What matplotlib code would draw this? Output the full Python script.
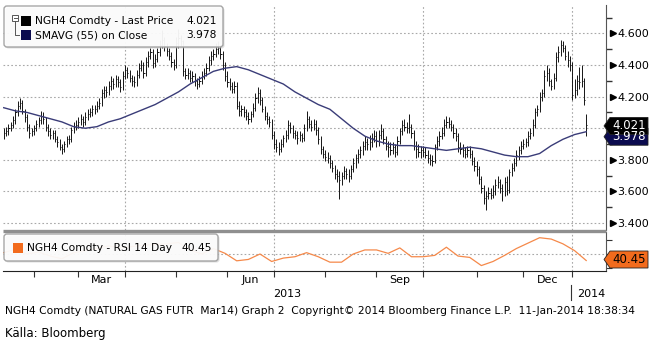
import numpy as np
import pandas as pd
import matplotlib
matplotlib.use("Agg")
import matplotlib.pyplot as plt
from matplotlib.patches import FancyBboxPatch, Rectangle, Polygon
from matplotlib.transforms import blended_transform_factory

# NYMEX trading days, Jan 14 2013 .. Jan 10 2014
holidays = ["2013-01-21", "2013-02-18", "2013-03-29", "2013-05-27", "2013-07-04",
            "2013-09-02", "2013-11-28", "2013-12-25", "2014-01-01"]
days = pd.bdate_range("2013-01-14", "2014-01-10")
days = days[~days.isin(pd.to_datetime(holidays))]

closes = [
    3.97, 3.98, 4.00, 4.02, 4.05, 4.10, 4.14, 4.16, 4.11, 4.07,
    4.01, 3.97, 3.98, 4.00, 4.03, 4.05, 4.08, 4.06, 4.01, 3.98,
    3.96, 3.97, 3.93, 3.91, 3.88, 3.87, 3.90, 3.93, 3.93, 3.99,
    4.01, 4.02, 4.04, 4.06, 4.04, 4.07, 4.09, 4.10, 4.12, 4.12,
    4.14, 4.16, 4.22, 4.24, 4.23, 4.27, 4.30, 4.28, 4.31, 4.29,
    4.26, 4.33, 4.37, 4.35, 4.32, 4.30, 4.29, 4.34, 4.38, 4.40,
    4.35, 4.42, 4.46, 4.48, 4.41, 4.44, 4.48, 4.53, 4.56, 4.52,
    4.49, 4.46, 4.42, 4.40, 4.54, 4.57, 4.55, 4.36, 4.34, 4.35,
    4.32, 4.33, 4.30, 4.28, 4.30, 4.33, 4.35, 4.38, 4.43, 4.46,
    4.47, 4.50, 4.51, 4.47, 4.40, 4.33, 4.29, 4.27, 4.25, 4.27,
    4.14, 4.11, 4.12, 4.10, 4.08, 4.06, 4.09, 4.13, 4.19, 4.22,
    4.18, 4.12, 4.08, 4.06, 4.04, 3.96, 3.90, 3.88, 3.87, 3.90,
    3.94, 3.96, 4.02, 4.00, 3.97, 3.96, 3.94, 3.96, 3.94, 4.00,
    4.06, 4.03, 4.01, 4.03, 3.99, 3.93, 3.87, 3.84, 3.82, 3.81,
    3.78, 3.75, 3.71, 3.70, 3.67, 3.70, 3.73, 3.71, 3.70, 3.74,
    3.78, 3.81, 3.84, 3.86, 3.89, 3.91, 3.90, 3.91, 3.94, 3.95,
    3.92, 3.96, 3.98, 3.93, 3.89, 3.88, 3.86, 3.88, 3.85, 3.92,
    3.98, 4.02, 4.01, 4.00, 4.01, 3.97, 3.89, 3.87, 3.85, 3.86,
    3.85, 3.83, 3.81, 3.80, 3.79, 3.88, 3.92, 3.95, 3.97, 4.02,
    4.04, 4.03, 4.01, 3.97, 3.95, 3.88, 3.87, 3.86, 3.84, 3.86,
    3.84, 3.79, 3.76, 3.74, 3.68, 3.62, 3.56, 3.57, 3.59, 3.58,
    3.60, 3.64, 3.66, 3.62, 3.60, 3.66, 3.61, 3.72, 3.75, 3.78,
    3.83, 3.86, 3.89, 3.90, 3.91, 3.95, 3.97, 4.02, 4.10, 4.12,
    4.20, 4.22, 4.33, 4.35, 4.30, 4.27, 4.32, 4.45, 4.48, 4.53,
    4.51, 4.46, 4.43, 4.40, 4.21, 4.24, 4.30, 4.29, 4.30, 4.18,
    4.021]

highs = [
    4.00, 4.01, 4.03, 4.04, 4.08, 4.12, 4.17, 4.19, 4.18, 4.12,
    4.09, 4.03, 4.00, 4.02, 4.05, 4.07, 4.11, 4.10, 4.07, 4.03,
    4.00, 3.99, 3.99, 3.95, 3.93, 3.90, 3.92, 3.95, 3.96, 4.01,
    4.04, 4.05, 4.07, 4.09, 4.08, 4.10, 4.12, 4.13, 4.15, 4.15,
    4.17, 4.19, 4.25, 4.27, 4.27, 4.30, 4.33, 4.32, 4.34, 4.33,
    4.31, 4.36, 4.40, 4.39, 4.37, 4.34, 4.33, 4.37, 4.41, 4.43,
    4.42, 4.45, 4.49, 4.51, 4.50, 4.47, 4.51, 4.56, 4.62, 4.58,
    4.54, 4.51, 4.48, 4.44, 4.58, 4.63, 4.59, 4.56, 4.38, 4.38,
    4.37, 4.36, 4.35, 4.32, 4.33, 4.36, 4.38, 4.41, 4.46, 4.49,
    4.50, 4.54, 4.55, 4.53, 4.49, 4.42, 4.36, 4.32, 4.29, 4.30,
    4.29, 4.17, 4.15, 4.14, 4.12, 4.10, 4.11, 4.16, 4.22, 4.26,
    4.25, 4.20, 4.14, 4.10, 4.08, 4.06, 3.98, 3.93, 3.91, 3.93,
    3.96, 3.99, 4.05, 4.04, 4.02, 3.99, 3.98, 3.98, 3.97, 4.03,
    4.11, 4.08, 4.05, 4.06, 4.05, 4.01, 3.95, 3.89, 3.86, 3.85,
    3.83, 3.80, 3.77, 3.74, 3.73, 3.72, 3.76, 3.75, 3.74, 3.77,
    3.81, 3.84, 3.87, 3.89, 3.92, 3.95, 3.94, 3.96, 3.97, 3.99,
    3.98, 3.99, 4.03, 4.00, 3.95, 3.92, 3.91, 3.91, 3.90, 3.95,
    4.00, 4.05, 4.06, 4.04, 4.09, 4.03, 3.99, 3.92, 3.90, 3.89,
    3.89, 3.88, 3.86, 3.84, 3.83, 3.90, 3.95, 3.98, 4.01, 4.06,
    4.08, 4.07, 4.05, 4.03, 4.00, 3.97, 3.91, 3.90, 3.88, 3.89,
    3.89, 3.86, 3.82, 3.79, 3.76, 3.70, 3.64, 3.60, 3.63, 3.62,
    3.64, 3.68, 3.70, 3.68, 3.65, 3.69, 3.70, 3.74, 3.78, 3.81,
    3.86, 3.89, 3.92, 3.93, 3.94, 3.98, 4.00, 4.06, 4.13, 4.15,
    4.23, 4.25, 4.37, 4.40, 4.38, 4.31, 4.35, 4.48, 4.52, 4.56,
    4.55, 4.53, 4.49, 4.46, 4.42, 4.31, 4.34, 4.39, 4.40, 4.32,
    4.09]

lows = [
    3.93, 3.95, 3.96, 3.98, 4.00, 4.03, 4.08, 4.12, 4.09, 4.04,
    3.98, 3.94, 3.95, 3.96, 3.98, 4.01, 4.03, 4.03, 3.98, 3.95,
    3.93, 3.93, 3.91, 3.88, 3.86, 3.84, 3.85, 3.88, 3.90, 3.91,
    3.97, 3.99, 4.00, 4.02, 4.01, 4.02, 4.05, 4.07, 4.08, 4.09,
    4.10, 4.12, 4.14, 4.19, 4.20, 4.21, 4.24, 4.25, 4.26, 4.26,
    4.23, 4.24, 4.31, 4.32, 4.29, 4.27, 4.26, 4.27, 4.32, 4.36,
    4.32, 4.33, 4.39, 4.44, 4.38, 4.39, 4.42, 4.46, 4.51, 4.49,
    4.46, 4.43, 4.39, 4.37, 4.38, 4.51, 4.52, 4.33, 4.31, 4.31,
    4.29, 4.29, 4.27, 4.25, 4.26, 4.28, 4.31, 4.33, 4.36, 4.40,
    4.43, 4.45, 4.47, 4.44, 4.37, 4.30, 4.26, 4.24, 4.22, 4.22,
    4.12, 4.08, 4.08, 4.07, 4.05, 4.03, 4.04, 4.07, 4.11, 4.16,
    4.15, 4.10, 4.05, 4.03, 4.01, 3.93, 3.87, 3.85, 3.83, 3.85,
    3.88, 3.91, 3.93, 3.97, 3.94, 3.93, 3.90, 3.92, 3.91, 3.92,
    3.98, 4.00, 3.98, 3.99, 3.96, 3.90, 3.84, 3.81, 3.79, 3.78,
    3.75, 3.72, 3.68, 3.66, 3.55, 3.64, 3.68, 3.68, 3.66, 3.68,
    3.72, 3.75, 3.78, 3.81, 3.83, 3.86, 3.86, 3.86, 3.88, 3.91,
    3.88, 3.89, 3.93, 3.90, 3.86, 3.82, 3.83, 3.84, 3.82, 3.83,
    3.90, 3.96, 3.98, 3.97, 3.97, 3.94, 3.86, 3.81, 3.82, 3.81,
    3.82, 3.81, 3.78, 3.77, 3.76, 3.78, 3.86, 3.89, 3.93, 3.95,
    4.00, 4.00, 3.98, 3.94, 3.92, 3.85, 3.84, 3.82, 3.81, 3.82,
    3.81, 3.77, 3.73, 3.70, 3.65, 3.59, 3.52, 3.48, 3.55, 3.55,
    3.56, 3.58, 3.62, 3.59, 3.54, 3.57, 3.58, 3.59, 3.70, 3.73,
    3.76, 3.80, 3.84, 3.87, 3.88, 3.89, 3.93, 3.95, 4.00, 4.08,
    4.10, 4.17, 4.20, 4.30, 4.27, 4.24, 4.25, 4.30, 4.42, 4.46,
    4.48, 4.43, 4.39, 4.36, 4.18, 4.19, 4.21, 4.25, 4.26, 4.15,
    3.95]

# 55-day SMA of close and 14-day RSI, every 5th session
step_idx = list(range(0, 251, 5))
sma55 = [4.13, 4.11, 4.10, 4.08, 4.06, 4.04, 4.01, 4.00, 4.01, 4.04,
         4.06, 4.09, 4.12, 4.15, 4.19, 4.23, 4.28, 4.32, 4.36, 4.38,
         4.39, 4.37, 4.34, 4.31, 4.28, 4.23, 4.19, 4.15, 4.12, 4.06,
         4.00, 3.95, 3.92, 3.90, 3.89, 3.89, 3.88, 3.87, 3.86, 3.87,
         3.88, 3.87, 3.85, 3.83, 3.82, 3.82, 3.84, 3.89, 3.93, 3.96,
         3.978]
rsi14 = [52, 57, 50, 53, 47, 43, 52, 55, 58, 62,
         59, 61, 63, 64, 65, 67, 56, 50, 58, 51,
         40, 42, 50, 39, 44, 46, 52, 46, 38, 38,
         50, 56, 56, 51, 59, 46, 46, 48, 60, 47,
         45, 33, 39, 48, 58, 66, 74, 72, 65, 55,
         40.45]

last_price = 4.021
last_sma = 3.978
last_rsi = 40.45

price_grid = [3.4, 3.6, 3.8, 4.0, 4.2, 4.4, 4.6]
price_minor = [3.5, 3.7, 3.9, 4.1, 4.3, 4.5, 4.7]
month_labels = ["Mar", "Jun", "Sep", "Dec"]

W, H = 649, 345
BLACK = "#000000"
NAVY = "#3a3c78"
ORANGE = "#f5894a"
GRID = "#a8a8a8"

plt.rcParams["font.family"] = ["DejaVu Sans"]

n = len(days)
idx = np.arange(n)
fig = plt.figure(figsize=(W / 100, H / 100), dpi=100)

def fbox(x0, y0, x1, y1):
    return [x0 / W, 1 - y1 / H, (x1 - x0) / W, (y1 - y0) / H]

ax = fig.add_axes(fbox(3, 5, 606, 230))
rsi = fig.add_axes(fbox(3, 232, 606, 271))

# month starts and quarter boundaries in session index
month_start = [i for i in range(1, n) if days[i].month != days[i - 1].month]
quarters = [i for i in month_start if days[i].month in (1, 4, 7, 10)]

for a in (ax, rsi):
    a.set_xlim(-0.3, 258.5)
    for s in ("top", "left"):
        a.spines[s].set_visible(False)
    a.spines["right"].set_color("#555555")
    for q in quarters:
        a.axvline(q, color=GRID, lw=0.8, ls=(0, (1.5, 2)), zorder=0)

# price panel: HLC bars
ax.vlines(idx, lows, highs, color="#151515", lw=0.7, zorder=3)
ax.hlines(closes, idx, idx + 0.5, color="#151515", lw=0.7, zorder=3)
ax.plot(step_idx, sma55, color=NAVY, lw=1.0, zorder=4)
ax.set_ylim(3.356, 4.780)
ax.spines["bottom"].set_visible(False)
ax.set_xticks([])
ax.yaxis.tick_right()
ax.set_yticks(price_grid)
# the 4.000 label sits under the last-price tag
ax.set_yticklabels(["" if v == 4.0 else "%.3f" % v for v in price_grid])
ax.set_yticks(price_minor, minor=True)
ax.tick_params(axis="y", which="major", length=0, pad=8, labelsize=8)
ax.tick_params(axis="y", which="minor", length=4, width=1, color="#333333")
for v in price_grid:
    ax.axhline(v, color=GRID, lw=0.8, ls=(0, (1.5, 2)), zorder=0)
ax.plot([1.011] * len(price_grid), price_grid, ls="none", marker=">", ms=4,
        color=BLACK, transform=ax.get_yaxis_transform(), clip_on=False)

# RSI panel
rsi.plot(step_idx, rsi14, color=ORANGE, lw=0.9, zorder=3)
rsi.set_ylim(25, 82.4)
rsi.axhline(50, color=GRID, lw=0.8, ls=(0, (1.5, 2)), zorder=0)
rsi.spines["bottom"].set_color("#222222")
rsi.yaxis.tick_right()
rsi.set_yticks([30, 50, 70])
rsi.set_yticklabels([])
rsi.tick_params(axis="y", length=4, color="#333333")
rsi.set_xticks(month_start)
rsi.set_xticklabels([])
rsi.tick_params(axis="x", length=4, color="#333333")

# month / year labels
tr = blended_transform_factory(rsi.transData, fig.transFigure)
for name in month_labels:
    m = [i for i in month_start if days[i].strftime("%b") == name][0]
    nxt = [i for i in month_start if i > m][0]
    fig.text((m + nxt) / 2, 1 - 280 / H, name, transform=tr, ha="center",
             va="center", fontsize=8)
jan = quarters[-1]
fig.text((rsi.get_xlim()[0] + jan) / 2, 1 - 294 / H, "2013", transform=tr,
         ha="center", va="center", fontsize=8)
fig.text(jan + 2.0, 1 - 294 / H, "2014", transform=tr, ha="left",
         va="center", fontsize=8)
fig.add_artist(plt.Line2D([jan - 0.5] * 2, [1 - 285 / H, 1 - 300 / H],
                          transform=tr, color="#333333", lw=0.8))

# overlay in pixel coordinates for boxes, tags and captions
ov = fig.add_axes([0, 0, 1, 1], zorder=10)
ov.set_xlim(0, W)
ov.set_ylim(H, 0)
ov.axis("off")

ov.plot([3, 606], [231, 231], color="#8f8f8f", lw=2.4, solid_capstyle="butt")

def legend_box(x0, y0, x1, y1):
    ov.add_patch(FancyBboxPatch((x0 + 1.5, y0 + 1.5), x1 - x0, y1 - y0,
                                boxstyle="round,pad=0,rounding_size=3",
                                fc="#c8c8c8", ec="none", alpha=0.6))
    ov.add_patch(FancyBboxPatch((x0, y0), x1 - x0, y1 - y0,
                                boxstyle="round,pad=0,rounding_size=3",
                                fc="white", ec="#9a9a9a", lw=1.0, alpha=0.88))

LEG_FS = 7.7
legend_box(4, 6, 223, 47)
ov.add_patch(Rectangle((12, 15), 6, 6, fc="white", ec="#555555", lw=0.7))
ov.plot([13.5, 16.5], [18, 18], color="#555555", lw=0.7)
ov.plot([15, 15, 19], [21, 35, 35], color="#555555", lw=0.7)
ov.add_patch(Rectangle((21, 16), 10, 10, fc=BLACK, ec="none"))
ov.add_patch(Rectangle((21, 30), 10, 10, fc="#0b0b4f", ec="none"))
ov.text(35, 21, "NGH4 Comdty - Last Price", fontsize=LEG_FS, va="center")
ov.text(217, 21, "%.3f" % last_price, fontsize=LEG_FS, va="center", ha="right")
ov.text(35, 35, "SMAVG (55) on Close", fontsize=LEG_FS, va="center")
ov.text(217, 35, "%.3f" % last_sma, fontsize=LEG_FS, va="center", ha="right")

legend_box(4, 234, 218, 261)
ov.add_patch(Rectangle((13, 243), 10, 10, fc="#f26b1d", ec="none"))
ov.text(27, 248, "NGH4 Comdty - RSI 14 Day", fontsize=LEG_FS, va="center")
ov.text(212, 248, "%.2f" % last_rsi, fontsize=LEG_FS, va="center", ha="right")

def px_y(axes, v):
    return H - axes.transData.transform((0, v))[1]

def tag(yc, label, face, color):
    pts = [(604, yc), (610, yc - 8.5), (648, yc - 8.5), (648, yc + 8.5), (610, yc + 8.5)]
    ov.add_patch(Polygon(pts, closed=True, fc=face, ec="#222222", lw=0.6))
    ov.text(629, yc, label, fontsize=8.5, color=color, ha="center", va="center")

# SMA tag sits just under the last-price tag
tag(px_y(ax, last_sma) + 5, "%.3f" % last_sma, "#0b0b4f", "white")
tag(px_y(ax, last_price) + 1, "%.3f" % last_price, BLACK, "white")
tag(px_y(rsi, last_rsi) - 1, "%.2f" % last_rsi, "#f26b1d", BLACK)

ov.text(5, 311, "NGH4 Comdty (NATURAL GAS FUTR  Mar14) Graph 2  Copyright\u00a9 2014 "
        "Bloomberg Finance L.P.  11-Jan-2014 18:38:34", fontsize=7.7, va="center")
ov.text(5, 334, "K\u00e4lla: Bloomberg", fontsize=8.5, va="center",
        family=["Liberation Sans Narrow", "DejaVu Sans"])

fig.savefig("out.png", dpi=100)
